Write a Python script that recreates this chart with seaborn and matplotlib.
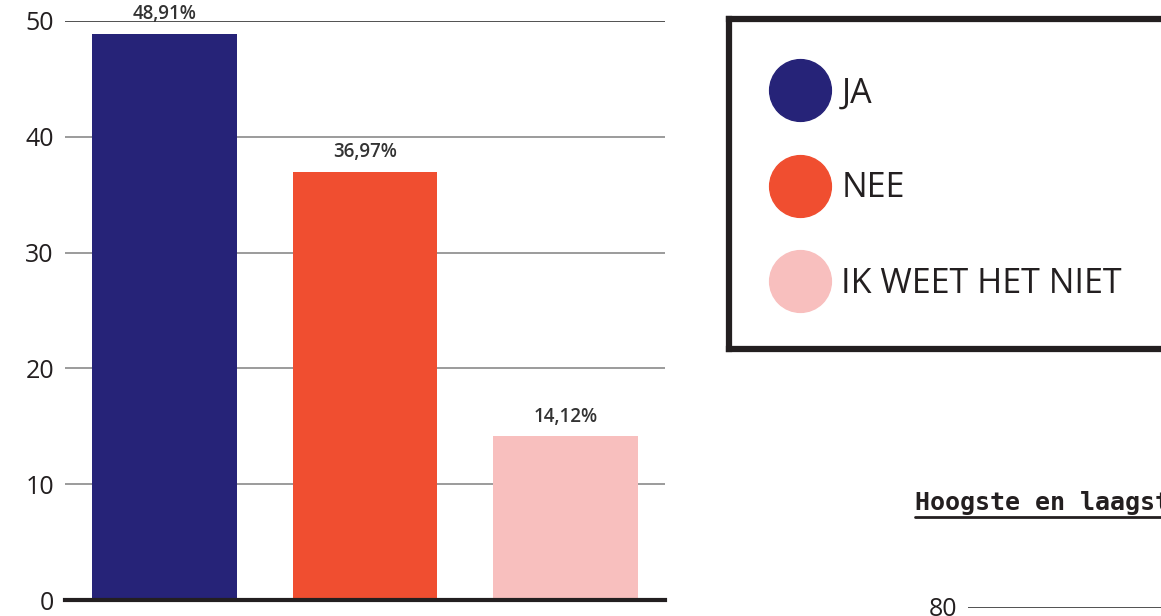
import matplotlib
matplotlib.use("Agg")
import matplotlib.pyplot as plt
from matplotlib.lines import Line2D
import seaborn as sns
import pandas as pd

categories = ["JA", "NEE", "IK WEET HET NIET"]
values = [48.91, 36.97, 14.12]
value_labels = ["48,91%", "36,97%", "14,12%"]
colors = ["#262378", "#F04E30", "#F8BFBE"]
yticks = [0, 10, 20, 30, 40, 50]
title2 = "Hoogste en laagst"
tick2 = [80]

sns.set_theme(style="white")
plt.rcParams["font.family"] = ["Open Sans", "DejaVu Sans"]
TXT = "#231f20"

W, H = 1161, 616
fig = plt.figure(figsize=(W / 100, H / 100), dpi=100)

def px(x0, y0, x1, y1):
    return [x0 / W, 1 - y1 / H, (x1 - x0) / W, (y1 - y0) / H]

ax = fig.add_axes(px(65, 21, 665, 600))
df = pd.DataFrame({"cat": categories, "val": values})
sns.barplot(data=df, x="cat", y="val", hue="cat", palette=colors,
            width=0.723, legend=False, ax=ax, saturation=1, linewidth=0)
ax.set_xlim(-0.496, 2.496)
ax.set_ylim(0, 50)
ax.set_yticks(yticks)
ax.set_yticklabels([str(t) for t in yticks], fontsize=18, color=TXT)
ax.set_xticks([])
ax.set_xlabel("")
ax.set_ylabel("")
ax.tick_params(axis="y", length=0, pad=8)
for t in yticks[1:]:
    ax.axhline(t, color="#333333" if t == 50 else "#8a8a8a", lw=1.2, zorder=0)
for s in ["top", "right", "left"]:
    ax.spines[s].set_visible(False)
ax.spines["bottom"].set_color(TXT)
ax.spines["bottom"].set_linewidth(3)
for i, (v, lab) in enumerate(zip(values, value_labels)):
    ax.annotate(lab, (i, v), xytext=(0, 7), textcoords="offset points",
                ha="center", va="bottom", fontsize=13.5, fontweight="semibold", color="#333333",
                annotation_clip=False)

# legend box
axl = fig.add_axes(px(729, 19, 1200, 349))
axl.set_xticks([]); axl.set_yticks([])
for s in axl.spines.values():
    s.set_linewidth(4.5)
    s.set_color(TXT)
handles = [Line2D([], [], marker="o", ls="", markersize=44.5, markerfacecolor=c,
                  markeredgecolor=c) for c in colors]
leg = axl.legend(handles, categories, loc="upper left", bbox_to_anchor=(0.051, 0.868),
                 frameon=False, fontsize=24.5, labelspacing=1.8, handletextpad=0.25,
                 borderaxespad=0, handlelength=1.95)
for t in leg.get_texts():
    t.set_color(TXT)

# second (cut-off) chart
fig.text(915 / W, 1 - 510 / H, title2, fontsize=18, fontweight="bold",
         family="DejaVu Sans Mono", color=TXT, ha="left", va="baseline")
fig.add_artist(Line2D([915 / W, 1.0], [1 - 517 / H] * 2, color=TXT, lw=2))
ax2 = fig.add_axes(px(968, 607, 1200, 900))
ax2.set_ylim(0, 80)
ax2.set_yticks(tick2)
ax2.set_yticklabels([str(t) for t in tick2], fontsize=18, color=TXT)
ax2.tick_params(axis="y", length=0, pad=8)
ax2.set_xticks([])
for s in ax2.spines.values():
    s.set_visible(False)
ax2.axhline(80, color="#333333", lw=1.2)

fig.savefig("out.png", dpi=100)
